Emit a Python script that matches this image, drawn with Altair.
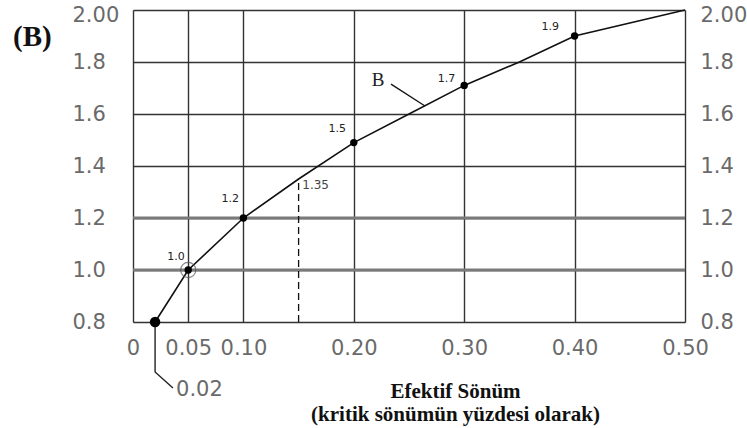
import altair as alt
import pandas as pd

# Curve (effective damping vs. factor B)
curve_x = [0.02, 0.05, 0.10, 0.15, 0.20, 0.25, 0.30, 0.35, 0.40, 0.50]
curve_y = [0.80, 1.00, 1.20, 1.35, 1.49, 1.60, 1.71, 1.80, 1.90, 2.00]

# Marked points
pt_x = [0.02, 0.05, 0.10, 0.20, 0.30, 0.40]
pt_y = [0.80, 1.00, 1.20, 1.49, 1.71, 1.90]

# Point labels (positions in data units)
lab_text = ["1.0", "1.2", "1.5", "1.7", "1.9"]
lab_x = [0.039, 0.088, 0.185, 0.284, 0.378]
lab_y = [1.05, 1.273, 1.542, 1.735, 1.935]

x_ticks = [0, 0.05, 0.10, 0.20, 0.30, 0.40, 0.50]
y_ticks = [0.8, 1.0, 1.2, 1.4, 1.6, 1.8, 2.0]

# Dashed reading line at 0.15 -> 1.35
dash_x = [0.15, 0.15]
dash_y = [0.80, 1.35]

# "B" leader line
lead_x = [0.2337, 0.2645]
lead_y = [1.715, 1.631]

# 0.02 callout path
call_x = [0.02, 0.02, 0.0362]
call_y = [0.80, 0.608, 0.546]
call_order = [0, 1, 2]

curve = pd.DataFrame({"x": curve_x, "y": curve_y})
pts = pd.DataFrame({"x": pt_x, "y": pt_y})
labs = pd.DataFrame({"t": lab_text, "x": lab_x, "y": lab_y})
dash = pd.DataFrame({"x": dash_x, "y": dash_y})
lead = pd.DataFrame({"x": lead_x, "y": lead_y})
call = pd.DataFrame({"x": call_x, "y": call_y, "o": call_order})

xs = alt.Scale(domain=[0, 0.5], nice=False, zero=False)
ys = alt.Scale(domain=[0.8, 2.0], nice=False, zero=False)

LABFONT = "DejaVu Sans"
LABCOL = "#6a6a6a"
LABSIZE = 21
TOP_OFFSET = {"condition": {"test": "datum.value == 2", "value": 5}, "value": 0}

x_axis = alt.Axis(
    values=x_ticks,
    labelExpr="datum.value == 0 ? '0' : format(datum.value, '.2f')",
    grid=True, gridColor="#333", gridWidth=1.4,
    ticks=False, domain=False, tickSize=0,
    labelFont=LABFONT, labelFontSize=LABSIZE, labelColor=LABCOL,
    labelPadding=15, labelFlush=False,
    title=["Efektif Sönüm", "(kritik sönümün yüzdesi olarak)"],
    titleFont="Liberation Serif", titleFontWeight="bold", titleFontSize=21,
    titleColor="#111", titleLineHeight=23, titleX=322, titleY=69,
    titleAlign="center", titleBaseline="middle",
)

y_axis = alt.Axis(
    values=y_ticks,
    labelExpr="datum.value == 2 ? '2.00' : format(datum.value, '.1f')",
    grid=True, gridColor="#333", gridWidth=1.4,
    ticks=False, domain=False, tickSize=0,
    labelFont=LABFONT, labelFontSize=LABSIZE, labelColor=LABCOL,
    labelAlign="left", labelPadding=61, labelFlush=False,
    labelOffset=TOP_OFFSET,
    title=None,
)

y_axis_r = alt.Axis(
    values=y_ticks, orient="right",
    labelExpr="datum.value == 2 ? '2.00' : format(datum.value, '.1f')",
    grid=False, ticks=False, domain=False, tickSize=0,
    labelFont=LABFONT, labelFontSize=LABSIZE, labelColor=LABCOL,
    labelAlign="left", labelPadding=15, labelFlush=False,
    labelOffset=TOP_OFFSET,
    title=None,
)

X = alt.X("x:Q", scale=xs)
Y = alt.Y("y:Q", scale=ys)

grid_layer = alt.Chart(curve).mark_point(opacity=0).encode(
    x=alt.X("x:Q", scale=xs, axis=x_axis),
    y=alt.Y("y:Q", scale=ys, axis=y_axis),
)

right_axis_layer = alt.Chart(curve).mark_point(opacity=0).encode(
    x=X,
    y=alt.Y("y:Q", scale=ys, axis=y_axis_r),
)

thick_grid = alt.Chart(pd.DataFrame({"y": [1.0, 1.2]})).mark_rule(
    color="#7a7a7a", strokeWidth=3
).encode(y=Y)

line = alt.Chart(curve).mark_line(color="#111", strokeWidth=1.6, interpolate="linear").encode(
    x=X, y=Y,
)

points = alt.Chart(pts).mark_circle(color="#000", size=55, opacity=1).encode(x=X, y=Y)

ring = alt.Chart(pts.iloc[[1]]).mark_point(
    shape="circle", size=230, filled=False, color="#555", strokeWidth=1.2
).encode(x=X, y=Y)

labels = alt.Chart(labs).mark_text(
    font=LABFONT, fontSize=11, color="#222", align="center", baseline="middle"
).encode(x=X, y=Y, text="t:N")

dash_line = alt.Chart(dash).mark_line(
    color="#111", strokeWidth=1.3, strokeDash=[7, 4]
).encode(x=X, y=Y)

lab135 = alt.Chart(pd.DataFrame({"t": ["1.35"], "x": [0.1533], "y": [1.327]})).mark_text(
    font=LABFONT, fontSize=12, color="#444", align="left", baseline="middle"
).encode(x=X, y=Y, text="t:N")

b_label = alt.Chart(pd.DataFrame({"t": ["B"], "x": [0.222], "y": [1.731]})).mark_text(
    font="Liberation Serif", fontSize=19, color="#222", align="center", baseline="middle"
).encode(x=X, y=Y, text="t:N")

leader = alt.Chart(lead).mark_line(color="#111", strokeWidth=1.3).encode(x=X, y=Y)

callout = alt.Chart(call).mark_line(color="#222", strokeWidth=1.4).encode(
    x=X, y=Y, order="o:Q",
)

call_text = alt.Chart(pd.DataFrame({"t": ["0.02"], "x": [0.039], "y": [0.538]})).mark_text(
    font=LABFONT, fontSize=LABSIZE, color=LABCOL, align="left", baseline="middle"
).encode(x=X, y=Y, text="t:N")

big_point = alt.Chart(pts.iloc[[0]]).mark_circle(color="#000", size=110, opacity=1).encode(
    x=X, y=Y,
)

main = alt.layer(
    grid_layer, thick_grid, dash_line, line, leader, callout,
    ring, points, big_point, labels, lab135, b_label, call_text,
)

chart = alt.layer(main, right_axis_layer).resolve_scale(
    x="shared", y="shared"
).resolve_axis(y="independent").properties(
    width=552, height=312,
    autosize=alt.AutoSizeParams(type="none"),
    padding={"left": 133, "top": 10, "right": 62, "bottom": 106},
    title=alt.TitleParams(
        "(B)", anchor="start", frame="group", font="Liberation Serif",
        fontSize=29, fontWeight="bold", color="#111",
        dx=-120, dy=62, baseline="middle", offset=0,
    ),
).configure_view(stroke="#222", strokeWidth=1.6).configure(background="white")

chart.save("out.html", embed_options={"renderer": "svg", "actions": False})
